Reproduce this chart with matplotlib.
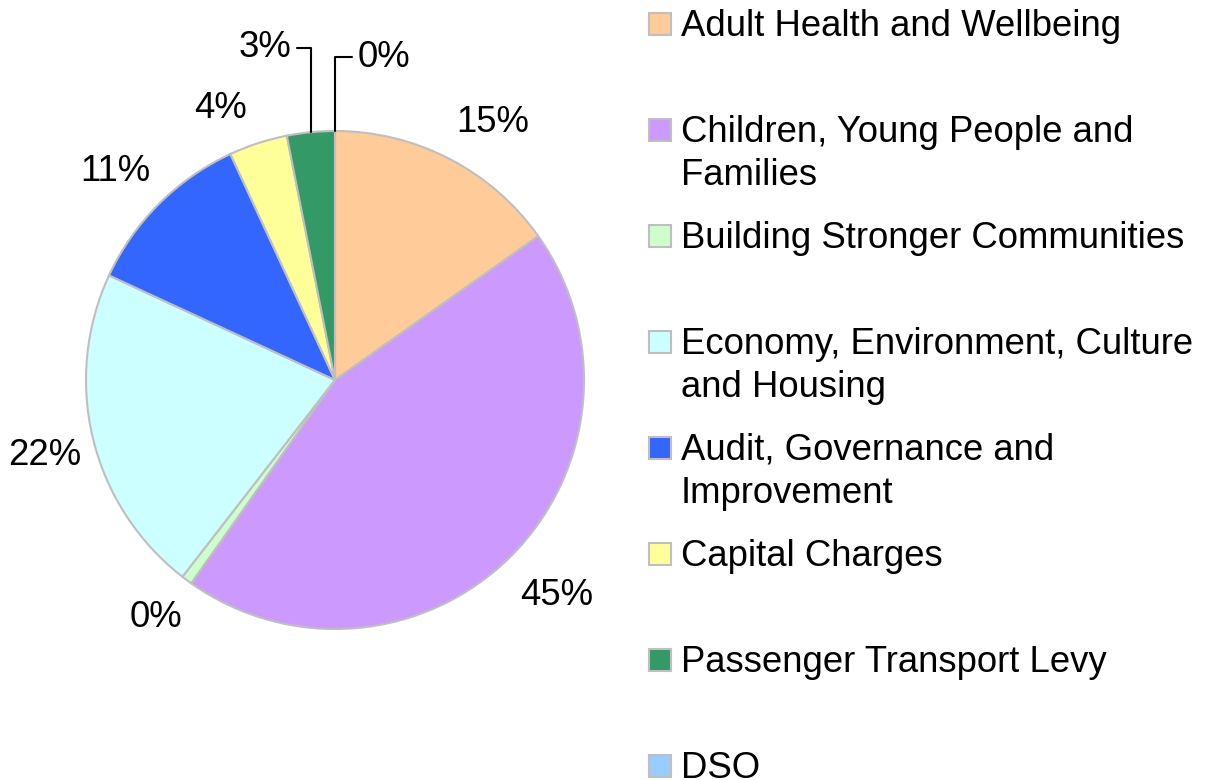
import numpy as np
import matplotlib
matplotlib.use("Agg")
import matplotlib.pyplot as plt
from matplotlib.patches import Rectangle

plt.rcParams['font.family'] = ['Liberation Sans', 'DejaVu Sans']

categories = ['Adult Health and Wellbeing',
              'Children, Young People and\nFamilies',
              'Building Stronger Communities',
              'Economy, Environment, Culture\nand Housing',
              'Audit, Governance and\nImprovement',
              'Capital Charges',
              'Passenger Transport Levy',
              'DSO']
shares = [15.2, 44.6, 0.7, 21.4, 11.2, 3.8, 3.1, 0.0]
pct_labels = ['15%', '45%', '0%', '22%', '11%', '4%', '3%', '0%']
colors = ['#FFCC99', '#CC99FF', '#CCFFCC', '#CCFFFF', '#3366FF', '#FFFF99', '#339966', '#99CCFF']

# label placement nudges (angle offset in degrees, radius factor)
lab_dang = [-4.1, 0.9, -0.5, 0.8, 1.6, 4.9, 0, 0]
lab_rad = [1.213, 1.241, 1.197, 1.205, 1.217, 1.185, 0, 0]

W, H = 1216, 780
fig = plt.figure(figsize=(W / 100, H / 100), dpi=100)

# pie centred at (335, 380) px, radius 249 px
cx, cy, R = 335, 380, 249
half = 300
ax = fig.add_axes([(cx - half) / W, (H - cy - half) / H, 2 * half / W, 2 * half / H])

wedges, _ = ax.pie(shares, colors=colors, startangle=90, counterclock=False,
                   radius=1, wedgeprops=dict(edgecolor='#BFBFBF', linewidth=1.5))
ax.set_xlim(-half / R, half / R)
ax.set_ylim(-half / R, half / R)
ax.set_aspect('equal')
ax.axis('off')

fs = 26.3
for i, (w, lab) in enumerate(zip(wedges, pct_labels)):
    mid_deg = (w.theta1 + w.theta2) / 2
    mid = np.deg2rad(mid_deg)
    if i == 6:
        ax.annotate(lab, xy=(np.cos(mid), np.sin(mid)), xytext=(-0.28, 1.335),
                    ha='center', va='center', fontsize=fs,
                    arrowprops=dict(arrowstyle='-', color='black', lw=1.5,
                                    connectionstyle='angle,angleA=0,angleB=90,rad=0',
                                    shrinkA=2, shrinkB=0))
    elif i == 7:
        ax.annotate(lab, xy=(0, 1.0), xytext=(0.195, 1.297),
                    ha='center', va='center', fontsize=fs,
                    arrowprops=dict(arrowstyle='-', color='black', lw=1.5,
                                    connectionstyle='angle,angleA=0,angleB=90,rad=0',
                                    shrinkA=2, shrinkB=0))
    else:
        a = np.deg2rad(mid_deg + lab_dang[i])
        r = lab_rad[i]
        ax.text(r * np.cos(a), r * np.sin(a), lab, ha='center', va='center', fontsize=fs)

# legend drawn by hand, evenly spaced like the original
y0, step, line_h = 23, 106, 43
for i, (cat, col) in enumerate(zip(categories, colors)):
    y = y0 + i * step
    fig.patches.append(Rectangle(((660 - 11) / W, (H - y - 12) / H), 22 / W, 22 / H,
                                 transform=fig.transFigure, facecolor=col,
                                 edgecolor='#BFBFBF', linewidth=1.5))
    for k, line in enumerate(cat.split('\n')):
        fig.text(681 / W, (H - y - 13 - k * line_h) / H, line, ha='left',
                 va='baseline', fontsize=fs)

fig.savefig('out.png', dpi=100)
